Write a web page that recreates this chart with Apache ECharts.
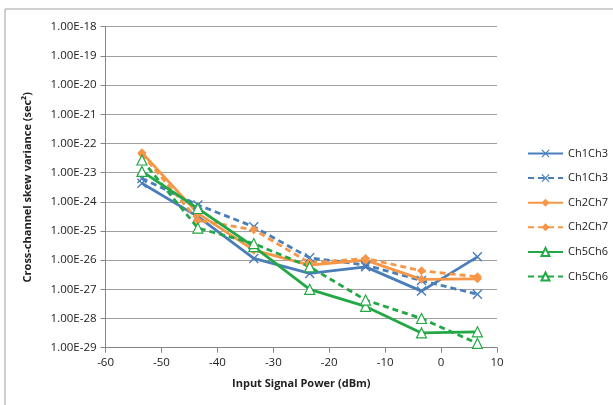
<!DOCTYPE html>
<html><head><meta charset="utf-8">
<script src="https://cdn.jsdelivr.net/npm/echarts@6/dist/echarts.min.js"></script>
<style>html,body{margin:0;padding:0;background:#fff}#c{width:613px;height:405px}</style>
</head><body><div id="c"></div>
<script>
const xValues = [-53.5, -43.5, -33.5, -23.5, -13.5, -3.5, 6.5];
const ch1ch3Solid = [4.3e-24, 3.1e-25, 1.15e-26, 3.5e-27, 5.9e-27, 8.7e-28, 1.3e-26];
const ch1ch3Dashed = [6.3e-24, 7.8e-25, 1.4e-25, 1.2e-26, 6.8e-27, 2.0e-27, 6.8e-28];
const ch2ch7Solid = [4.8e-23, 4.0e-25, 2.2e-26, 6.8e-27, 1.0e-26, 2.2e-27, 2.3e-27];
const ch2ch7Dashed = [4.3e-23, 2.3e-25, 1.1e-25, 8.1e-27, 1.15e-26, 4.3e-27, 2.7e-27];
const ch5ch6Solid = [1.1e-23, 5.9e-25, 2.9e-26, 1.0e-27, 2.6e-28, 3.2e-29, 3.5e-29];
const ch5ch6Dashed = [2.7e-23, 1.26e-25, 3.7e-26, 5.9e-27, 4.3e-28, 1.0e-28, 1.4e-29];
const seriesNames = ['Ch1Ch3', 'Ch1Ch3 ', 'Ch2Ch7', 'Ch2Ch7 ', 'Ch5Ch6', 'Ch5Ch6 '];
const yMin = 1e-29, yMax = 1e-18;

// ECharts rounds log-axis values to 20 decimals, so values are plotted in units of 1e-30 s^2
const UNIT_EXP = -30;
const toUnit = v => v / Math.pow(10, UNIT_EXP);

const BLUE = '#4A7EBB', ORANGE = '#F79646', GREEN = '#22A845';
const crossPath = 'path://M0,1L1,0L5,4L9,0L10,1L6,5L10,9L9,10L5,6L1,10L0,9L4,5Z';
const FONT = 'Open Sans';

function mk(name, data, color, dashed, sym, hollow, size) {
  return {
    name: name, type: 'line',
    data: xValues.map((x, i) => [x, toUnit(data[i])]),
    symbol: sym, symbolSize: size, showSymbol: true,
    lineStyle: { color: color, width: 2.8, type: dashed ? [6, 4] : 'solid' },
    itemStyle: hollow ? { color: '#fff', borderColor: color, borderWidth: 1.2 } : { color: color, borderColor: color, borderWidth: 0 },
    emphasis: { disabled: true }
  };
}
const allData = [ch1ch3Solid, ch1ch3Dashed, ch2ch7Solid, ch2ch7Dashed, ch5ch6Solid, ch5ch6Dashed];
const colors = [BLUE, BLUE, ORANGE, ORANGE, GREEN, GREEN];
const syms = [crossPath, crossPath, 'diamond', 'diamond', 'triangle', 'triangle'];
const hollows = [false, false, false, false, true, true];
const sizes = [10, 10, 9, 9, 10, 10];
const series = allData.map((d, i) => mk(seriesNames[i], d, colors[i], i % 2 === 1, syms[i], hollows[i], sizes[i]));

const chart = echarts.init(document.getElementById('c'), null, { renderer: 'canvas' });
chart.setOption({
  animation: false,
  backgroundColor: '#fff',
  textStyle: { fontFamily: FONT },
  graphic: [{ type: 'rect', shape: { x: 5, y: 9, width: 620, height: 410 }, style: { fill: 'none', stroke: '#a0a0a0', lineWidth: 1 }, silent: true }],
  grid: { left: 105.6, top: 26.7, right: 116, bottom: 57.3, containLabel: false },
  legend: {
    orient: 'vertical', left: 522, top: 143,
    itemWidth: 35, itemHeight: 10, itemGap: 13.6,
    textStyle: { fontFamily: FONT, fontSize: 11, color: '#222' },
    formatter: n => n.trim(),
    data: seriesNames.slice()
  },
  xAxis: {
    type: 'value', min: -60, max: 10, interval: 10,
    axisLine: { show: true, onZero: false, lineStyle: { color: '#868686', width: 1 } },
    axisTick: { show: true, length: 5, lineStyle: { color: '#868686' } },
    splitLine: { show: false },
    axisLabel: { fontFamily: FONT, fontSize: 11.5, color: '#222', margin: 9 },
    name: 'Input Signal Power (dBm)', nameLocation: 'middle', nameGap: 31,
    nameTextStyle: { fontFamily: FONT, fontSize: 11, fontWeight: 'bold', color: '#222' }
  },
  yAxis: {
    type: 'log', logBase: 10, min: toUnit(yMin), max: toUnit(yMax), interval: 1,
    axisLine: { show: true, onZero: false, lineStyle: { color: '#868686', width: 1 } },
    axisTick: { show: true, length: 5, lineStyle: { color: '#868686' } },
    splitLine: { show: true, lineStyle: { color: '#a0a0a0', width: 1 } },
    axisLabel: {
      fontFamily: FONT, fontSize: 11.5, color: '#222', margin: 9,
      formatter: v => '1.00E' + (Math.round(Math.log10(v)) + UNIT_EXP)
    },
    name: 'Cross-channel skew variance (sec²)', nameLocation: 'middle', nameGap: 72, nameRotate: 90,
    nameTextStyle: { fontFamily: FONT, fontSize: 11, fontWeight: 'bold', color: '#222' }
  },
  series: series
});
</script></body></html>
